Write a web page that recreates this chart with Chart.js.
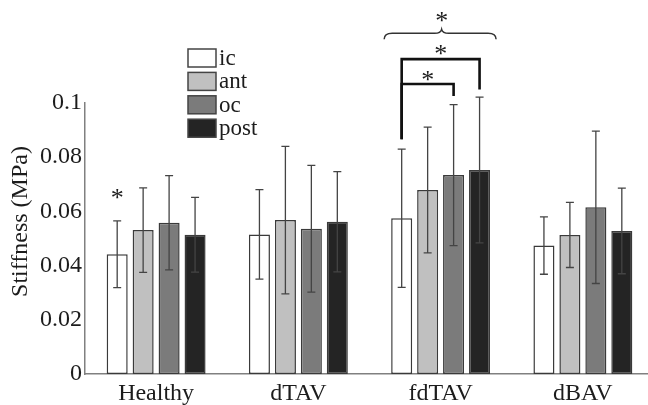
<!DOCTYPE html>
<html>
<head>
<meta charset="utf-8">
<script src="https://cdn.jsdelivr.net/npm/chart.js@4/dist/chart.umd.min.js"></script>
<style>
html,body{margin:0;padding:0;background:#fff;overflow:hidden;}
#wrap{width:648px;height:405px;position:relative;overflow:hidden;}
#c{position:absolute;left:0;top:0;}
</style>
</head>
<body>
<div id="wrap"><canvas id="c" width="654" height="405"></canvas></div>
<script>
// ---- data ----
const categories = ['Healthy', 'dTAV', 'fdTAV', 'dBAV'];
const seriesNames = ['ic', 'ant', 'oc', 'post'];
const icValues   = [0.0442, 0.0515, 0.0575, 0.0474];
const icErrors   = [0.0123, 0.0165, 0.0255, 0.0106];
const antValues  = [0.0531, 0.0568, 0.0679, 0.0513];
const antErrors  = [0.0156, 0.0272, 0.0232, 0.0120];
const ocValues   = [0.0558, 0.0536, 0.0734, 0.0615];
const ocErrors   = [0.0174, 0.0234, 0.0260, 0.0281];
const postValues = [0.0514, 0.0562, 0.0753, 0.0528];
const postErrors = [0.0138, 0.0185, 0.0269, 0.0158];
const yTickValues = [0, 0.02, 0.04, 0.06, 0.08, 0.1];
const yTickLabels = ['0', '0.02', '0.04', '0.06', '0.08', '0.1'];
const yTitle = 'Stiffness (MPa)';

// significance annotations (data units)
const sigStars = [{category: 0, series: 0, value: 0.0663}];
const sigBrackets = [
  {category: 2, from: 0, to: 2, top: 0.1070, fromEnd: 0.0866, toEnd: 0.1026, star: 0.1100},
  {category: 2, from: 0, to: 3, top: 0.1162, fromEnd: 0.0866, toEnd: 0.1050, star: 0.1196}
];
const sigBraces = [{category: 2, from: 0, to: 3, level: 0.1257, star: 0.1317}];

const allValues = [icValues, antValues, ocValues, postValues];
const allErrors = [icErrors, antErrors, ocErrors, postErrors];
const fills = ['#ffffff', '#c0c0c0', '#7b7b7b', '#242424'];
const SERIF = "'Liberation Serif', 'Times New Roman', Times, serif";
const INK = '#1c1c1c';

const datasets = seriesNames.map((n, i) => ({
  label: n,
  data: allValues[i],
  backgroundColor: fills[i],
  borderColor: '#3a3a3a',
  borderWidth: 1.5,
  borderSkipped: false,
  categoryPercentage: 0.73,
  barPercentage: 0.81
}));

const annotPlugin = {
  id: 'annot',
  afterDatasetsDraw(chart) {
    const ctx = chart.ctx;
    const y = chart.scales.y;
    const area = chart.chartArea;
    const bar = (s, c) => chart.getDatasetMeta(s).data[c];
    ctx.save();
    // y-axis title (raised like the original)
    ctx.save();
    ctx.fillStyle = INK;
    ctx.font = '24px ' + SERIF;
    ctx.textAlign = 'center';
    ctx.textBaseline = 'middle';
    ctx.translate(y.left + 21, (area.top + area.bottom) / 2 - 17);
    ctx.rotate(-Math.PI / 2);
    ctx.fillText(yTitle, 0, 0);
    ctx.restore();
    // error bars
    ctx.strokeStyle = '#444';
    ctx.lineWidth = 1.3;
    allValues.forEach((vals, s) => {
      vals.forEach((v, c) => {
        const b = bar(s, c);
        const e = allErrors[s][c];
        const yt = y.getPixelForValue(v + e), yb = y.getPixelForValue(v - e);
        ctx.beginPath();
        ctx.moveTo(b.x, yt); ctx.lineTo(b.x, yb);
        ctx.moveTo(b.x - 4, yt); ctx.lineTo(b.x + 4, yt);
        ctx.moveTo(b.x - 4, yb); ctx.lineTo(b.x + 4, yb);
        ctx.stroke();
      });
    });
    const star = (x, v) => {
      ctx.fillStyle = INK;
      ctx.font = '26px ' + SERIF;
      ctx.textAlign = 'center';
      ctx.textBaseline = 'alphabetic';
      ctx.fillText('*', x, y.getPixelForValue(v) + 12);
    };
    sigStars.forEach(s => star(bar(s.series, s.category).x, s.value));
    // brackets
    ctx.strokeStyle = '#111';
    ctx.lineWidth = 2.6;
    sigBrackets.forEach(br => {
      const x0 = bar(br.from, br.category).x, x1 = bar(br.to, br.category).x;
      const yt = y.getPixelForValue(br.top);
      ctx.beginPath();
      ctx.moveTo(x0, y.getPixelForValue(br.fromEnd));
      ctx.lineTo(x0, yt);
      ctx.lineTo(x1, yt);
      ctx.lineTo(x1, y.getPixelForValue(br.toEnd));
      ctx.stroke();
      star((x0 + x1) / 2, br.star);
    });
    // braces
    ctx.strokeStyle = '#333';
    ctx.lineWidth = 1.5;
    sigBraces.forEach(bc => {
      const b0 = bar(bc.from, bc.category), b1 = bar(bc.to, bc.category);
      const x0 = b0.x - b0.width / 2 - 7, x1 = b1.x + b1.width / 2 + 6;
      const xm = (b0.x + b1.x) / 2 + 1;
      const yy = y.getPixelForValue(bc.level);
      ctx.beginPath();
      ctx.moveTo(x0, yy + 6);
      ctx.quadraticCurveTo(x0, yy, x0 + 8, yy);
      ctx.lineTo(xm - 7, yy);
      ctx.quadraticCurveTo(xm - 1, yy, xm, yy - 4);
      ctx.quadraticCurveTo(xm + 1, yy, xm + 7, yy);
      ctx.lineTo(x1 - 8, yy);
      ctx.quadraticCurveTo(x1, yy, x1, yy + 6);
      ctx.stroke();
      star(xm, bc.star);
    });
    // legend
    const lx = 188, ly = 49, bw = 28, bh = 18, pitch = 23.4;
    seriesNames.forEach((n, i) => {
      const top = ly + i * pitch;
      ctx.fillStyle = fills[i];
      ctx.fillRect(lx, top, bw, bh);
      ctx.strokeStyle = '#444';
      ctx.lineWidth = 1.5;
      ctx.strokeRect(lx, top, bw, bh);
      ctx.fillStyle = INK;
      ctx.font = '23px ' + SERIF;
      ctx.textAlign = 'left';
      ctx.textBaseline = 'middle';
      ctx.fillText(n, lx + bw + 3, top + bh / 2 + 1);
    });
    ctx.restore();
  }
};

new Chart(document.getElementById('c'), {
  type: 'bar',
  data: {labels: categories, datasets},
  options: {
    responsive: false,
    animation: false,
    layout: {padding: {top: 103, left: 0, right: 0, bottom: 0}},
    plugins: {legend: {display: false}, tooltip: {enabled: false}},
    scales: {
      x: {
        afterFit: (s) => { s.height = 31; },
        grid: {display: false, drawTicks: false},
        border: {display: true, color: '#808080', width: 1.5},
        ticks: {color: INK, font: {family: SERIF, size: 24}, padding: 5}
      },
      y: {
        min: 0, max: 0.1,
        afterFit: (s) => { s.width = 85; },
        afterBuildTicks: (s) => { s.ticks = yTickValues.map(v => ({value: v})); },
        grid: {display: false, drawTicks: false},
        border: {display: true, color: '#808080', width: 1.5},
        ticks: {
          color: INK, font: {family: SERIF, size: 24}, padding: 3,
          callback: (v) => { const i = yTickValues.findIndex(t => Math.abs(t - v) < 1e-9); return i >= 0 ? yTickLabels[i] : ''; }
        },
        title: {display: false}
      }
    }
  },
  plugins: [annotPlugin]
});
</script>
</body>
</html>
